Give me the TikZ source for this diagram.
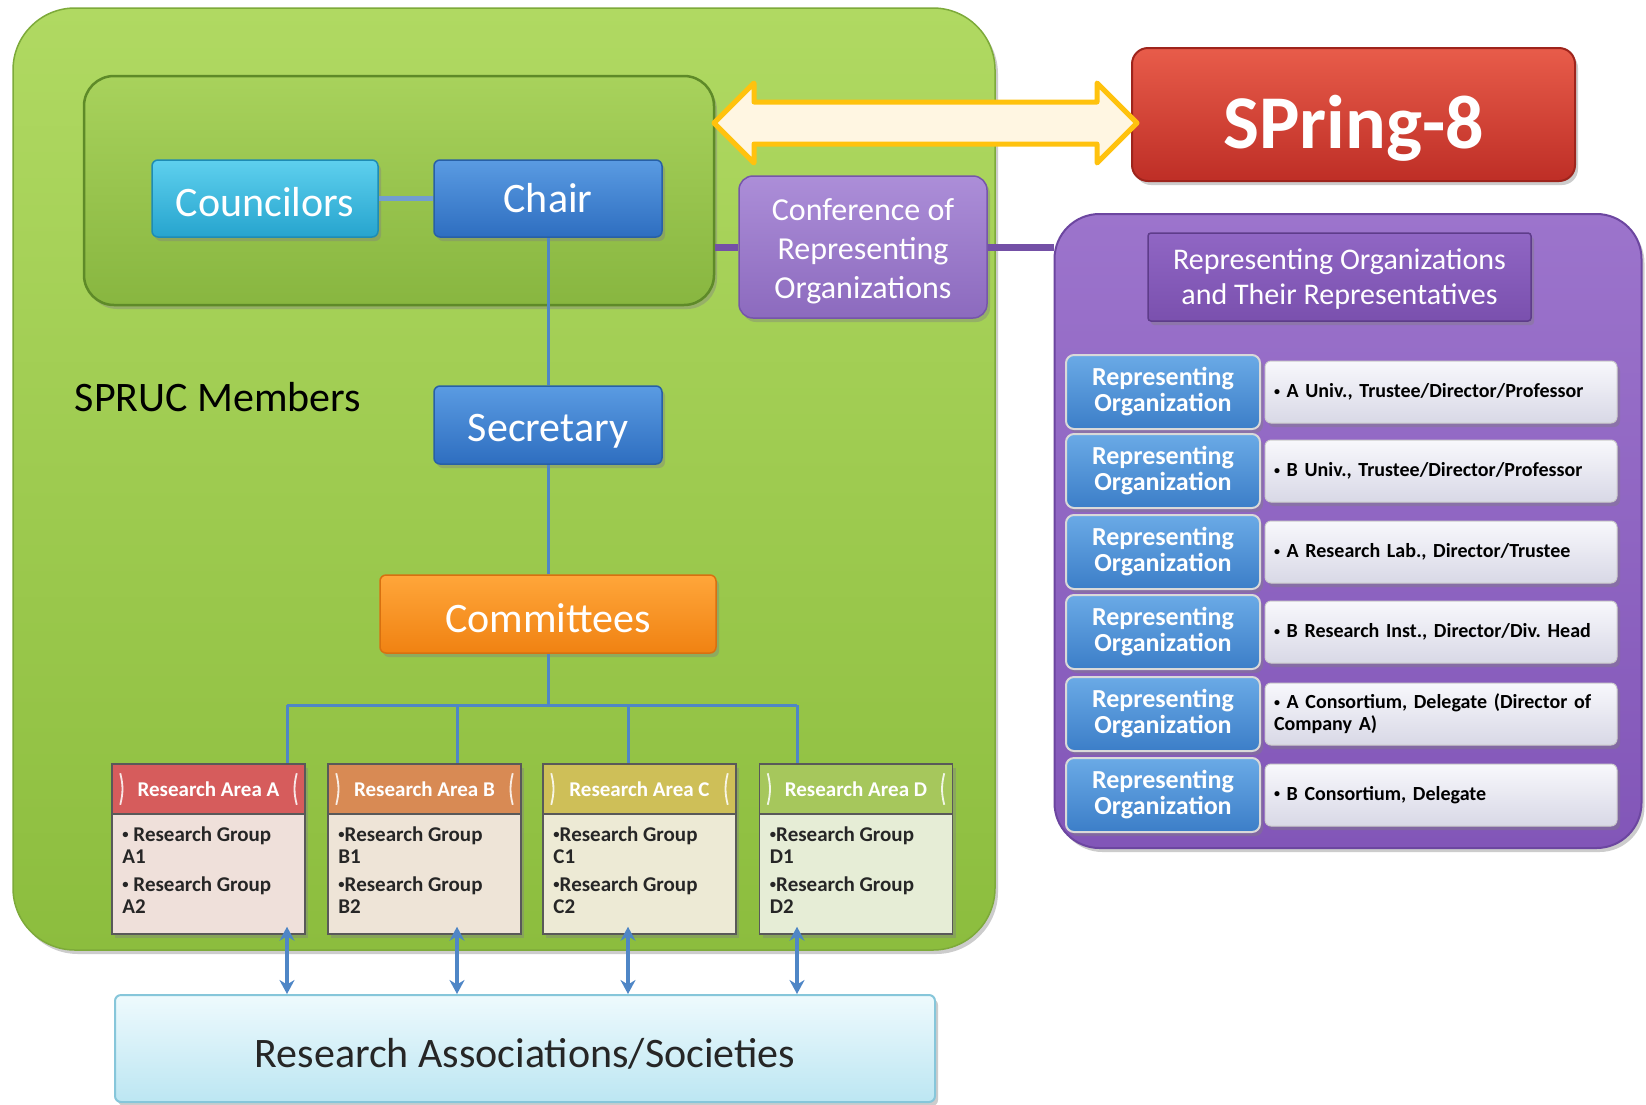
\documentclass[tikz,border=0pt]{standalone}
\usepackage{fontspec}
\setmainfont{Carlito}
\usetikzlibrary{shadows,calc,arrows.meta}
\definecolor{gTop}{HTML}{B0D962}
\definecolor{gBot}{HTML}{8CBD3E}
\definecolor{gBorder}{HTML}{7DAA3A}
\definecolor{iTop}{HTML}{A8D25C}
\definecolor{iBot}{HTML}{88B640}
\definecolor{iBorder}{HTML}{5E8A28}
\definecolor{cyTop}{HTML}{5ED0EE}
\definecolor{cyBot}{HTML}{26A4CE}
\definecolor{cyBorder}{HTML}{1E8CB4}
\definecolor{blTop}{HTML}{5A9BE2}
\definecolor{blBot}{HTML}{2E6EC0}
\definecolor{blBorder}{HTML}{2860A6}
\definecolor{orTop}{HTML}{FFA63A}
\definecolor{orBot}{HTML}{F08212}
\definecolor{orBorder}{HTML}{D87010}
\definecolor{puTop}{HTML}{AC8ED8}
\definecolor{puBot}{HTML}{8C6ABE}
\definecolor{puBorder}{HTML}{7656AA}
\definecolor{pbTop}{HTML}{9C74CC}
\definecolor{pbBot}{HTML}{8256B8}
\definecolor{pbBorder}{HTML}{6C46A0}
\definecolor{phTop}{HTML}{9066C4}
\definecolor{phBot}{HTML}{7A50AE}
\definecolor{phBorder}{HTML}{5E3C8A}
\definecolor{roTop}{HTML}{6AAAE6}
\definecolor{roBot}{HTML}{3C7EC8}
\definecolor{wTop}{HTML}{F8F8FC}
\definecolor{wBot}{HTML}{D8D8E6}
\definecolor{rdTop}{HTML}{E85C4A}
\definecolor{rdBot}{HTML}{BE2E26}
\definecolor{rdBorder}{HTML}{9E241C}
\definecolor{hA}{HTML}{D65C5C}
\definecolor{hB}{HTML}{D88A54}
\definecolor{hC}{HTML}{CEBF58}
\definecolor{hD}{HTML}{A6C75C}
\definecolor{bA}{HTML}{EFE0DA}
\definecolor{bB}{HTML}{EEE4D7}
\definecolor{bC}{HTML}{EDEAD5}
\definecolor{bD}{HTML}{E6EDD6}
\definecolor{asTop}{HTML}{EEFAFD}
\definecolor{asBot}{HTML}{BCE6F2}
\definecolor{asBorder}{HTML}{86C6DA}
\definecolor{lineBlue}{HTML}{4F86C6}
\definecolor{linePurple}{HTML}{7450A6}
\definecolor{yelBorder}{HTML}{FFC20E}
\definecolor{yelMid}{HTML}{FCE0A0}
\definecolor{yelSide}{HTML}{FFF6E2}
\newcommand{\myfs}[2]{\fontsize{#1}{#2}\selectfont}
\newcommand{\sbul}{\raisebox{0.13em}{\scalebox{0.6}{\textbullet}}}
\frenchspacing
\begin{document}
\begin{tikzpicture}[x=1pt,y=-1pt,
  shadowed/.style={drop shadow={opacity=0.4,shadow xshift=3pt,shadow yshift=-4pt}},
  box/.style={rectangle, rounded corners=6pt, inner sep=0pt, align=center, text=white, shadowed},
  mainbox/.style={box, font=\myfs{42}{46}, line width=1.5},
  cyanbox/.style={mainbox, top color=cyTop, bottom color=cyBot, draw=cyBorder},
  bluebox/.style={mainbox, top color=blTop, bottom color=blBot, draw=blBorder},
  orangebox/.style={mainbox, top color=orTop, bottom color=orBot, draw=orBorder},
  orgbox/.style={box, rounded corners=8pt, minimum width=194, minimum height=74, top color=roTop, bottom color=roBot, draw=white!85!black, line width=2, font=\myfs{26}{26}\bfseries},
  whitebox/.style={box, rounded corners=6pt, minimum width=352, minimum height=62, top color=wTop, bottom color=wBot, draw=white!80!black, line width=1, text=black, text width=334, align=left, font=\myfs{20}{22}\bfseries},
  areabody/.style={rectangle, inner sep=0pt, minimum width=193, minimum height=170, draw=black!65, line width=1.5, shadowed},
  areahead/.style={rectangle, inner sep=0pt, minimum width=193, minimum height=50, draw=black!65, line width=1.5, text=white, font=\myfs{21}{22}\bfseries},
  bracket/.style={draw=white, opacity=0.85, line width=1.8},
  grouptext/.style={inner sep=0pt, align=left, text=black!85, font=\myfs{21}{22}\bfseries},
  bline/.style={draw=lineBlue, line width=3},
  cline/.style={draw=lineBlue!80!white, line width=5},
  pline/.style={draw=linePurple, line width=7},
  darr/.style={draw=lineBlue, line width=3.5, {Stealth[length=14pt,width=15pt]}-{Stealth[length=14pt,width=15pt]}}
]
\useasboundingbox (0,0) rectangle (1646,1104);
\fill[white] (0,0) rectangle (1646,1104);

% backgrounds
\node[rectangle, rounded corners=62pt, minimum width=982, minimum height=942, top color=gTop, bottom color=gBot, draw=gBorder, line width=1.5, shadowed] (spruc) at (504,479) {};
\node[rectangle, rounded corners=45pt, minimum width=587, minimum height=634, top color=pbTop, bottom color=pbBot, draw=pbBorder, line width=2, shadowed] (reps) at (1348,531) {};
\node[rectangle, rounded corners=30pt, minimum width=630, minimum height=229, top color=iTop, bottom color=iBot, draw=iBorder, line width=2.5, shadowed] (council) at (399,190.5) {};

% main boxes
\node[cyanbox, minimum width=226, minimum height=77] (councilors) at (265,198.5) {\raisebox{-4pt}[\height][\depth]{Councilors}};
\node[bluebox, minimum width=228, minimum height=77] (chair) at (548,198.5) {Chair};
\node[bluebox, minimum width=228, minimum height=78] (secr) at (548,425) {\raisebox{-6pt}[\height][\depth]{Secretary}};
\node[orangebox, minimum width=336, minimum height=78] (comm) at (548,614) {\raisebox{-4pt}[\height][\depth]{Committees}};
\node[box, rounded corners=14pt, minimum width=248, minimum height=142, top color=puTop, bottom color=puBot, draw=puBorder, line width=1.5, font=\myfs{32}{39}] (conf) at (863,247) {\raisebox{-5pt}[\height][\depth]{\begin{tabular}{@{}c@{}}Conference of\\Representing\\Organizations\end{tabular}}};
\node[box, rounded corners=16pt, minimum width=443, minimum height=133, top color=rdTop, bottom color=rdBot, draw=rdBorder, line width=2, font=\myfs{76}{80}\bfseries] (spring) at (1353.5,114.5) {\raisebox{-14pt}[\height][\depth]{SPring-8}};
\node[inner sep=0pt, text=black, font=\myfs{42}{46}] (members) at (218,397) {SPRUC Members};

% representing organizations
\node[box, rounded corners=3pt, minimum width=383, minimum height=88, top color=phTop, bottom color=phBot, draw=phBorder, line width=1.5, font=\myfs{30}{35}] (rhead) at (1339.5,277) {\raisebox{-3pt}[\height][\depth]{\begin{tabular}{@{}c@{}}Representing Organizations\\and Their Representatives\end{tabular}}};
\foreach \i/\y/\t in {1/392/{\sbul\ A Univ., Trustee/Director/Professor},
                      2/471/{\sbul\ B Univ., Trustee/Director/Professor},
                      3/552/{\sbul\ A Research Lab., Director/Trustee},
                      4/632/{\sbul\ B Research Inst., Director/Div. Head},
                      5/714/{\sbul\ A Consortium, Delegate (Director of\\Company A)},
                      6/795/{\sbul\ B Consortium, Delegate}} {
  \node[whitebox] (rd\i) at (1441,\y) {\t};
  \node[orgbox] (ro\i) at (1163,\y) {Representing\\Organization};
}

% research areas
\foreach \k/\x/\gap in {A/208.5/{\ }, B/424.5/{}, C/639.5/{}, D/856/{}} {
  \node[areabody, fill=b\k] (a\k) at (\x,849) {};
  \node[areahead, fill=h\k, anchor=north] (h\k) at (a\k.north) {Research Area \k};
  \draw[bracket] ($(h\k.north west)+(9,10)$) to[bend left=14] ($(h\k.south west)+(9,-10)$);
  \draw[bracket] ($(h\k.north east)+(-9,10)$) to[bend right=14] ($(h\k.south east)+(-9,-10)$);
  \node[grouptext, anchor=north west] (t\k) at ($(h\k.south west)+(11,12)$) {\sbul\gap Research Group\\\k1\\[6pt]\sbul\gap Research Group\\\k2};
}

% research associations
\node[rectangle, rounded corners=6pt, inner sep=0pt, minimum width=820, minimum height=107, top color=asTop, bottom color=asBot, draw=asBorder, line width=2, text=black!85, font=\myfs{42}{46}, shadowed] (assoc) at (525,1048.5) {\raisebox{-5pt}[\height][\depth]{Research Associations/Societies}};

% connectors
\draw[cline] (councilors.east) -- (chair.west);
\draw[bline] (chair.south) -- (secr.north);
\draw[bline] (secr.south) -- (comm.north);
\coordinate (bus) at (548,705);
\coordinate (xA) at (287,705);
\coordinate (xB) at (457,705);
\coordinate (xC) at (628,705);
\coordinate (xD) at (797,705);
\draw[bline] (comm.south) -- (bus);
\draw[bline] (xA) -- (xD);
\foreach \k in {A,B,C,D} {
  \draw[bline] (x\k) -- (x\k |- h\k.north);
  \draw[darr] ($(x\k |- a\k.south)+(0,-8)$) -- (x\k |- assoc.north);
}
\draw[pline] (conf.west -| council.east) -- (conf.west);
\draw[pline] (conf.east) -- (conf.east -| reps.west);

% yellow double arrow between council box and SPring-8
\coordinate (yl) at (714,123);
\coordinate (yr) at (1137,123);
\draw[draw=yelBorder, line width=5, line join=round, left color=yelSide, middle color=yelMid, right color=yelSide]
  (yl) -- ++(40,-40) -- ++(0,19) -- ($(yr)+(-40,-21)$) -- ++(0,-19) -- (yr) -- ++(-40,40) -- ++(0,-19) -- ($(yl)+(40,21)$) -- ++(0,19) -- cycle;
\end{tikzpicture}
\end{document}
